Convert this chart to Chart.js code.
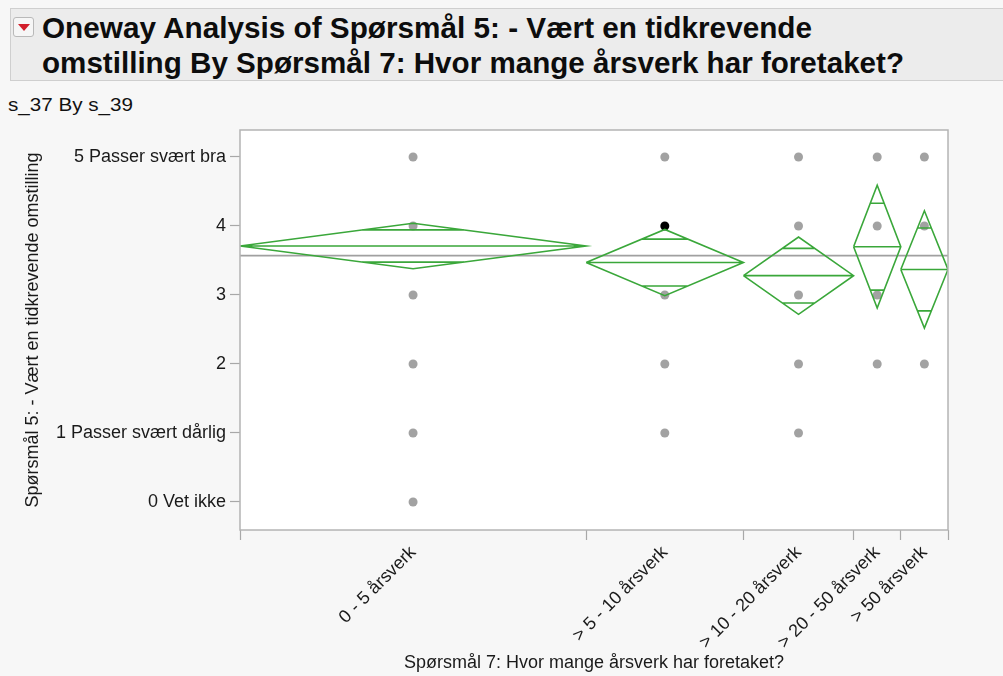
<!DOCTYPE html>
<html>
<head>
<meta charset="utf-8">
<script src="https://cdn.jsdelivr.net/npm/chart.js@4.4.1/dist/chart.umd.min.js"></script>
<style>
  html, body { margin: 0; padding: 0; background: #f7f7f7; }
  body { width: 1003px; height: 676px; position: relative; overflow: hidden;
         font-family: "Liberation Sans", Arial, Helvetica, sans-serif; color: #111; }
  #panel { position: absolute; left: 10px; top: 8px; width: 1000px; height: 73px;
           background: #ececec; border: 1px solid #cfcfcf; box-sizing: border-box; }
  #toggle { position: absolute; left: 13px; top: 17px; width: 21px; height: 20px;
            background: #f6f6f6; border: 1px solid #b9b9b9; border-radius: 3px; box-sizing: border-box; }
  #toggle::after { content: ""; position: absolute; left: 4px; top: 6px; width: 0; height: 0;
            border-left: 6px solid transparent; border-right: 6px solid transparent; border-top: 7px solid #d21f2b; }
  .fit { position: absolute; white-space: nowrap; transform-origin: 0 0; }
  .title { font-weight: bold; font-size: 30px; line-height: 30px; color: #0d0d0d; }
  .sub { font-size: 19px; line-height: 19px; color: #111; }
  #chartWrap { position: absolute; left: 0; top: 0; width: 1003px; height: 676px; }
</style>
</head>
<body>
<div id="panel"></div>
<div id="toggle"></div>
<div class="fit title" id="t1" data-w="770" style="left:42px; top:13px;">Oneway Analysis of Spørsmål 5: - Vært en tidkrevende</div>
<div class="fit title" id="t2" data-w="862" style="left:42px; top:48px;">omstilling By Spørsmål 7: Hvor mange årsverk har foretaket?</div>
<div class="fit sub" id="t3" data-w="125" style="left:8px; top:95px;">s_37 By s_39</div>
<div id="chartWrap"><canvas id="c" width="1003" height="676"></canvas></div>
<script>
// Header lines are condensed to their set widths
document.querySelectorAll('.fit').forEach(function (el) {
  var w = el.getBoundingClientRect().width;
  var target = parseFloat(el.getAttribute('data-w'));
  el.style.transform = 'scaleX(' + (target / w) + ')';
});

// ---- Data ----
const groupLabels = ['0 - 5 årsverk', '> 5 - 10 årsverk', '> 10 - 20 årsverk', '> 20 - 50 årsverk', '> 50 årsverk'];
const groupCounts = [22, 10, 7, 3, 3];            // category widths follow group size
const groupMeans  = [3.71, 3.47, 3.28, 3.70, 3.37];
const ciHalfWidth = [0.33, 0.48, 0.56, 0.89, 0.85]; // 95% confidence half-width of each mean
const grandMean   = 3.57;
const responseValues = [
  [5, 4, 3, 2, 1, 0],
  [5, 4, 3, 2, 1],
  [5, 4, 3, 2, 1],
  [5, 4, 3, 2],
  [5, 4, 2]
];
const selectedPoint = { group: 1, value: 4 };
const yTickValues = [0, 1, 2, 3, 4, 5];
const yTickLabels = ['0 Vet ikke', '1 Passer svært dårlig', '2', '3', '4', '5 Passer svært bra'];

// ---- Derived geometry in axis units ----
const bounds = [0];
groupCounts.forEach(n => bounds.push(bounds[bounds.length - 1] + n));
const centers = groupCounts.map((n, i) => bounds[i] + n / 2);
const total = bounds[bounds.length - 1];

// Means diamonds: outline, mean line and overlap marks, separated by gaps
const diamondData = [];
const gap = x => ({ x: x, y: null });
groupMeans.forEach((m, i) => {
  const l = bounds[i], r = bounds[i + 1], c = centers[i], h = ciHalfWidth[i];
  diamondData.push({ x: l, y: m }, { x: c, y: m + h }, { x: r, y: m }, { x: c, y: m - h }, { x: l, y: m }, gap(c));
  diamondData.push({ x: l, y: m }, { x: r, y: m }, gap(c));
  const k = 1 / Math.SQRT2;
  const half = (r - l) / 2 * (1 - k);
  [m + h * k, m - h * k].forEach(y => {
    diamondData.push({ x: c - half, y: y }, { x: c + half, y: y }, gap(c));
  });
});

const pointData = [];
const pointColors = [];
responseValues.forEach((vals, i) => {
  vals.forEach(v => {
    pointData.push({ x: centers[i], y: v });
    const sel = selectedPoint.group === i && selectedPoint.value === v;
    pointColors.push(sel ? '#000000' : '#a2a2a2');
  });
});

const xTickValues = bounds.concat(centers).sort((a, b) => a - b);
const centerLabel = v => {
  const idx = centers.findIndex(c => Math.abs(c - v) < 1e-6);
  return idx >= 0 ? groupLabels[idx] : '';
};

const plotFrame = {
  id: 'plotFrame',
  beforeDatasetsDraw(chart) {
    const a = chart.chartArea, ctx = chart.ctx;
    ctx.save();
    ctx.fillStyle = '#ffffff';
    ctx.fillRect(a.left, a.top, a.right - a.left, a.bottom - a.top);
    ctx.restore();
  },
  afterDatasetsDraw(chart) {
    const a = chart.chartArea, ctx = chart.ctx;
    ctx.save();
    ctx.strokeStyle = '#b4b4b4';
    ctx.lineWidth = 1.5;
    ctx.strokeRect(a.left, a.top, a.right - a.left, a.bottom - a.top);
    ctx.restore();
  }
};

const font18 = { family: '"Liberation Sans", Arial, Helvetica, sans-serif', size: 18 };

new Chart(document.getElementById('c'), {
  type: 'scatter',
  data: {
    datasets: [
      {
        label: 'Means diamonds',
        data: diamondData,
        showLine: true,
        spanGaps: false,
        borderColor: '#3aa73a',
        borderWidth: 1.6,
        pointRadius: 0,
        fill: false,
        order: 0
      },
      {
        label: 'Responses',
        data: pointData,
        pointRadius: 4.5,
        pointBackgroundColor: pointColors,
        pointBorderWidth: 0,
        order: 1
      },
      {
        label: 'Grand mean',
        data: [{ x: 0, y: grandMean }, { x: total, y: grandMean }],
        showLine: true,
        borderColor: '#a0a0a0',
        borderWidth: 1.6,
        pointRadius: 0,
        order: 2
      }
    ]
  },
  options: {
    responsive: false,
    animation: false,
    layout: { padding: { top: 130, right: 55, left: 0, bottom: 0 } },
    plugins: { legend: { display: false }, tooltip: { enabled: false } },
    scales: {
      x: {
        type: 'linear',
        position: 'bottom',
        min: 0,
        max: total,
        afterBuildTicks(scale) { scale.ticks = xTickValues.map(v => ({ value: v })); },
        afterFit(scale) { scale.height = 146; },
        ticks: {
          autoSkip: false,
          minRotation: 45,
          maxRotation: 45,
          padding: 2,
          color: '#1a1a1a',
          font: font18,
          callback: v => centerLabel(v)
        },
        grid: {
          drawOnChartArea: false,
          tickLength: 10,
          tickWidth: 1.2,
          tickColor: ctx => (ctx.tick && centerLabel(ctx.tick.value) !== '') ? 'rgba(0,0,0,0)' : '#a8a8a8'
        },
        border: { display: false },
        title: {
          display: true,
          text: 'Spørsmål 7: Hvor mange årsverk har foretaket?',
          color: '#1a1a1a',
          font: font18,
          padding: { top: 0, bottom: 2 }
        }
      },
      y: {
        type: 'linear',
        min: -0.406,
        max: 5.391,
        afterBuildTicks(scale) { scale.ticks = yTickValues.map(v => ({ value: v })); },
        afterFit(scale) { scale.width = 240; },
        ticks: {
          padding: 4,
          color: '#1a1a1a',
          font: font18,
          callback: v => yTickLabels[yTickValues.indexOf(v)]
        },
        grid: { drawOnChartArea: false, tickLength: 10, tickWidth: 1.2, tickColor: '#a8a8a8' },
        border: { display: false },
        title: {
          display: true,
          text: 'Spørsmål 5: - Vært en tidkrevende omstilling',
          color: '#1a1a1a',
          font: font18,
          padding: { top: 22, bottom: 0 }
        }
      }
    }
  },
  plugins: [plotFrame]
});
</script>
</body>
</html>
